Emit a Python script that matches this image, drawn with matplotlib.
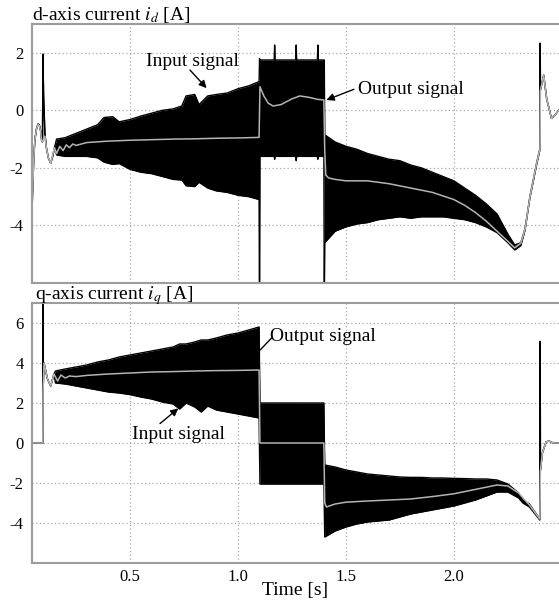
# d/q-axis current: input signal (dense oscillation, drawn as envelope) and filtered output
import numpy as np
import matplotlib
matplotlib.use("Agg")
import matplotlib.pyplot as plt

plt.rcParams['font.family'] = ['Liberation Serif', 'DejaVu Serif']
plt.rcParams['mathtext.fontset'] = 'stix'
plt.rcParams['axes.unicode_minus'] = False

# ---- d-axis current: input signal envelope (hi == lo where it is a single trace)
t_d = [0.046, 0.05, 0.055, 0.06, 0.067, 0.074, 0.08, 0.086, 0.091, 0.095, 0.097, 0.1,
       0.106, 0.113, 0.122, 0.133, 0.142, 0.152,
       0.16, 0.2, 0.25, 0.3, 0.35, 0.38, 0.42, 0.45, 0.5, 0.55, 0.6, 0.65, 0.7, 0.74,
       0.76, 0.8, 0.82, 0.86, 0.9, 0.95, 1.0, 1.05, 1.098,
       1.1, 1.102, 1.168, 1.17, 1.172, 1.268, 1.27, 1.272, 1.368, 1.37, 1.372, 1.398,
       1.4, 1.402, 1.45, 1.5, 1.55, 1.6, 1.65, 1.7, 1.75, 1.8, 1.85, 1.9, 1.95, 2.0,
       2.05, 2.1, 2.15, 2.2, 2.25, 2.282,
       2.31, 2.33, 2.352, 2.383, 2.399, 2.4, 2.401, 2.416, 2.43, 2.452, 2.47, 2.487]
d_hi = [-3.6, -2.6, -1.6, -1.0, -0.65, -0.48, -0.5, -0.7, -1.05, -1.1, 1.95, 0.5,
        -0.8, -1.3, -1.65, -1.84, -1.6, -1.25,
        -1.0, -0.95, -0.8, -0.65, -0.5, -0.25, -0.22, -0.4, -0.32, -0.2, -0.1, 0.0, 0.05, 0.15,
        0.5, 0.55, 0.2, 0.5, 0.55, 0.6, 0.75, 0.85, 1.0,
        1.8, 1.75, 1.75, 2.27, 1.75, 1.75, 2.27, 1.75, 1.75, 2.27, 1.75, 1.75,
        1.75, -0.85, -1.1, -1.25, -1.35, -1.5, -1.6, -1.7, -1.75, -1.9, -2.0, -2.15, -2.3, -2.45,
        -2.7, -2.95, -3.25, -3.6, -4.3, -4.68,
        -4.6, -4.1, -3.0, -1.84, -1.32, 2.33, 0.7, 1.22, 0.4, -0.28, -0.15, 0.02]
d_lo = [-3.6, -2.6, -1.6, -1.0, -0.65, -0.48, -0.5, -0.7, -1.05, -1.1, 1.95, 0.5,
        -0.8, -1.3, -1.65, -1.84, -1.6, -1.25,
        -1.55, -1.6, -1.6, -1.6, -1.65, -1.8, -1.88, -1.85, -2.05, -2.15, -2.2, -2.3, -2.4, -2.42,
        -2.62, -2.65, -2.5, -2.7, -2.8, -2.85, -2.95, -3.0, -3.1,
        -7.0, -1.6, -1.6, -1.7, -1.6, -1.6, -1.75, -1.6, -1.6, -1.7, -1.6, -1.6,
        -7.0, -4.6, -4.2, -4.05, -3.95, -3.9, -3.8, -3.75, -3.7, -3.75, -3.7, -3.7, -3.7, -3.75,
        -3.8, -3.9, -4.05, -4.25, -4.6, -4.85,
        -4.7, -4.15, -3.05, -1.9, -1.35, 2.33, 0.7, 1.22, 0.4, -0.28, -0.15, 0.02]

# ---- d-axis current: output signal
t_d_out = [0.046, 0.05, 0.055, 0.06, 0.067, 0.074, 0.08, 0.086, 0.091, 0.095, 0.106, 0.113,
           0.122, 0.133, 0.142, 0.15, 0.16, 0.175, 0.19, 0.205, 0.22, 0.235, 0.25, 0.3, 0.4,
           0.5, 0.6, 0.7, 0.8, 0.9, 1.0, 1.098, 1.102, 1.12, 1.14, 1.163, 1.2, 1.25, 1.287,
           1.33, 1.37, 1.398, 1.402, 1.407, 1.42, 1.45, 1.5, 1.6, 1.7, 1.8, 1.9, 2.0, 2.05,
           2.1, 2.15, 2.2, 2.25, 2.282, 2.31, 2.33, 2.352, 2.383, 2.399, 2.401, 2.416, 2.43,
           2.452, 2.47, 2.487]
d_out = [-3.6, -2.6, -1.6, -1.0, -0.65, -0.5, -0.52, -0.72, -1.05, -1.1, -0.9, -1.3,
         -1.65, -1.84, -1.55, -1.3, -1.5, -1.25, -1.4, -1.2, -1.3, -1.17, -1.22, -1.12, -1.07,
         -1.04, -1.02, -1.0, -0.99, -0.97, -0.96, -0.94, 0.82, 0.5, 0.25, 0.15, 0.2, 0.4, 0.5,
         0.45, 0.38, 0.36, -1.4, -2.25, -2.35, -2.4, -2.45, -2.45, -2.55, -2.7, -2.85, -3.1, -3.3,
         -3.55, -3.85, -4.2, -4.55, -4.78, -4.62, -4.12, -3.02, -1.86, -1.33, 0.7, 1.22, 0.4,
         -0.28, -0.15, 0.02]

# ---- q-axis current: input signal envelope
t_q = [0.046, 0.0965, 0.097, 0.0975, 0.102, 0.118, 0.133, 0.148,
       0.155, 0.2, 0.25, 0.3, 0.35, 0.4, 0.45, 0.5, 0.55, 0.6, 0.65, 0.7, 0.73, 0.76,
       0.8, 0.83, 0.86, 0.9, 0.95, 1.0, 1.05, 1.098,
       1.102, 1.398,
       1.402, 1.45, 1.5, 1.55, 1.6, 1.65, 1.7, 1.75, 1.8, 1.85, 1.9, 1.95, 2.0, 2.05,
       2.1, 2.15, 2.2, 2.25, 2.3, 2.32, 2.35, 2.398,
       2.4, 2.401, 2.41, 2.427, 2.44, 2.46, 2.487]
q_hi = [0.0, 0.0, 8.0, 2.6, 4.0, 3.2, 2.85, 3.45,
        3.6, 3.7, 3.8, 3.9, 4.05, 4.15, 4.3, 4.4, 4.5, 4.6, 4.7, 4.8, 4.95, 4.95,
        5.05, 5.15, 5.15, 5.25, 5.4, 5.5, 5.65, 5.8,
        2.0, 2.0,
        -1.1, -1.2, -1.35, -1.45, -1.55, -1.6, -1.65, -1.7, -1.72, -1.72, -1.75, -1.75, -1.77,
        -1.78, -1.8, -1.8, -1.85, -2.05, -2.5, -2.85, -3.05, -3.8,
        5.08, -1.37, -0.5, 0.05, 0.1, 0.0, 0.0]
q_lo = [0.0, 0.0, 8.0, 2.6, 4.0, 3.2, 2.85, 3.45,
        3.0, 2.95, 2.85, 2.75, 2.65, 2.55, 2.5, 2.42, 2.3, 2.2, 2.05, 1.95, 1.7, 2.0,
        1.8, 1.55, 1.85, 1.65, 1.55, 1.45, 1.35, 1.25,
        -2.05, -2.05,
        -4.7, -4.4, -4.2, -4.05, -3.95, -3.9, -3.85, -3.7, -3.55, -3.45, -3.35, -3.25, -3.15,
        -3.0, -2.85, -2.65, -2.45, -2.45, -2.75, -3.0, -3.2, -3.85,
        5.08, -1.37, -0.5, 0.05, 0.1, 0.0, 0.0]

# ---- q-axis current: output signal
t_q_out = [0.046, 0.0965, 0.0975, 0.102, 0.118, 0.133, 0.148, 0.165, 0.18, 0.2, 0.22,
           0.25, 0.3, 0.4, 0.5, 0.6, 0.7, 0.8, 0.9, 1.0, 1.098, 1.102, 1.398, 1.402, 1.41,
           1.45, 1.5, 1.6, 1.7, 1.8, 1.9, 2.0, 2.1, 2.2, 2.25, 2.3, 2.35, 2.398, 2.401,
           2.41, 2.427, 2.44, 2.46, 2.487]
q_out = [0.0, 0.0, 2.6, 4.0, 3.2, 2.85, 3.45, 3.1, 3.4, 3.25, 3.35,
         3.32, 3.38, 3.45, 3.5, 3.55, 3.57, 3.6, 3.62, 3.63, 3.65, 0.0, 0.0, -3.0, -3.2,
         -3.05, -2.96, -2.9, -2.85, -2.8, -2.68, -2.54, -2.32, -2.1, -2.15, -2.5, -3.1, -3.8,
         -1.37, -0.5, 0.05, 0.1, 0.0, 0.0]

x_ticks = [0.5, 1.0, 1.5, 2.0]
x_labels = ['0.5', '1.0', '1.5', '2.0']
d_ticks = [-4, -2, 0, 2]
q_ticks = [-4, -2, 0, 2, 4, 6]

W, H = 559, 601
fig = plt.figure(figsize=(W / 100, H / 100), dpi=100)
ax1 = fig.add_axes([32 / W, 1 - 283 / H, 1 - 32 / W, (283 - 24) / H])
ax2 = fig.add_axes([32 / W, 1 - 563 / H, 1 - 32 / W, (563 - 303) / H])

grey_spine = '#9c9c9c'
out_col = '#b4b4b4'


def draw_panel(ax, t, hi, lo, t_out, out, yticks, ylim, title, title_dx):
    ax.set_axisbelow(True)
    ax.fill_between(t, lo, hi, color='black', lw=0)
    ax.plot(t, hi, color='black', lw=1.0)
    ax.plot(t, lo, color='black', lw=1.0)
    ax.plot(t_out, out, color=out_col, lw=1.1)
    ax.set_xlim(0.0463, 2.487)
    ax.set_ylim(*ylim)
    ax.set_xticks(x_ticks)
    ax.set_xticklabels(x_labels)
    ax.set_yticks(yticks)
    ax.set_yticklabels([str(v) for v in yticks])
    ax.tick_params(axis='y', length=0, labelsize=12, pad=6)
    ax.tick_params(axis='x', length=0, labelsize=12, pad=4)
    ax.grid(True, color='#a8a8a8', linestyle=(0, (1, 2)), linewidth=0.9)
    for s in ['left', 'top', 'bottom']:
        ax.spines[s].set_color(grey_spine)
        ax.spines[s].set_linewidth(1.5)
    ax.spines['right'].set_visible(False)
    ax.annotate(title, xy=(0, 1), xycoords='axes fraction',
                xytext=(title_dx, 3), textcoords='offset points',
                ha='left', va='baseline', fontsize=14)


draw_panel(ax1, t_d, d_hi, d_lo, t_d_out, d_out, d_ticks, (-6, 3),
           'd-axis current $i_d$ [A]', 0)
draw_panel(ax2, t_q, q_hi, q_lo, t_q_out, q_out, q_ticks, (-6, 7),
           'q-axis current $i_q$ [A]', 2.5)
ax1.tick_params(labelbottom=False)
ax2.set_xlabel('Time [s]', fontsize=14, labelpad=-2)

arr = dict(arrowstyle='-|>', color='black', lw=1.0, mutation_scale=11, shrinkA=0, shrinkB=0)

# annotations
ax1.text(0.789, 1.69, 'Input signal', fontsize=14, ha='center', va='center')
ax1.annotate('', xy=(0.855, 0.77), xytext=(0.778, 1.40), arrowprops=arr)
ax1.text(1.80, 0.73, 'Output signal', fontsize=14, ha='center', va='center')
ax1.annotate('', xy=(1.41, 0.36), xytext=(1.537, 0.73), arrowprops=arr)

ax2.text(1.393, 5.33, 'Output signal', fontsize=14, ha='center', va='center')
ax2.annotate('', xy=(1.032, 3.85), xytext=(1.156, 5.25), arrowprops=arr)
ax2.text(0.724, 0.44, 'Input signal', fontsize=14, ha='center', va='center')
ax2.annotate('', xy=(0.724, 1.73), xytext=(0.639, 0.97), arrowprops=arr)

fig.savefig('out.png', dpi=100)
